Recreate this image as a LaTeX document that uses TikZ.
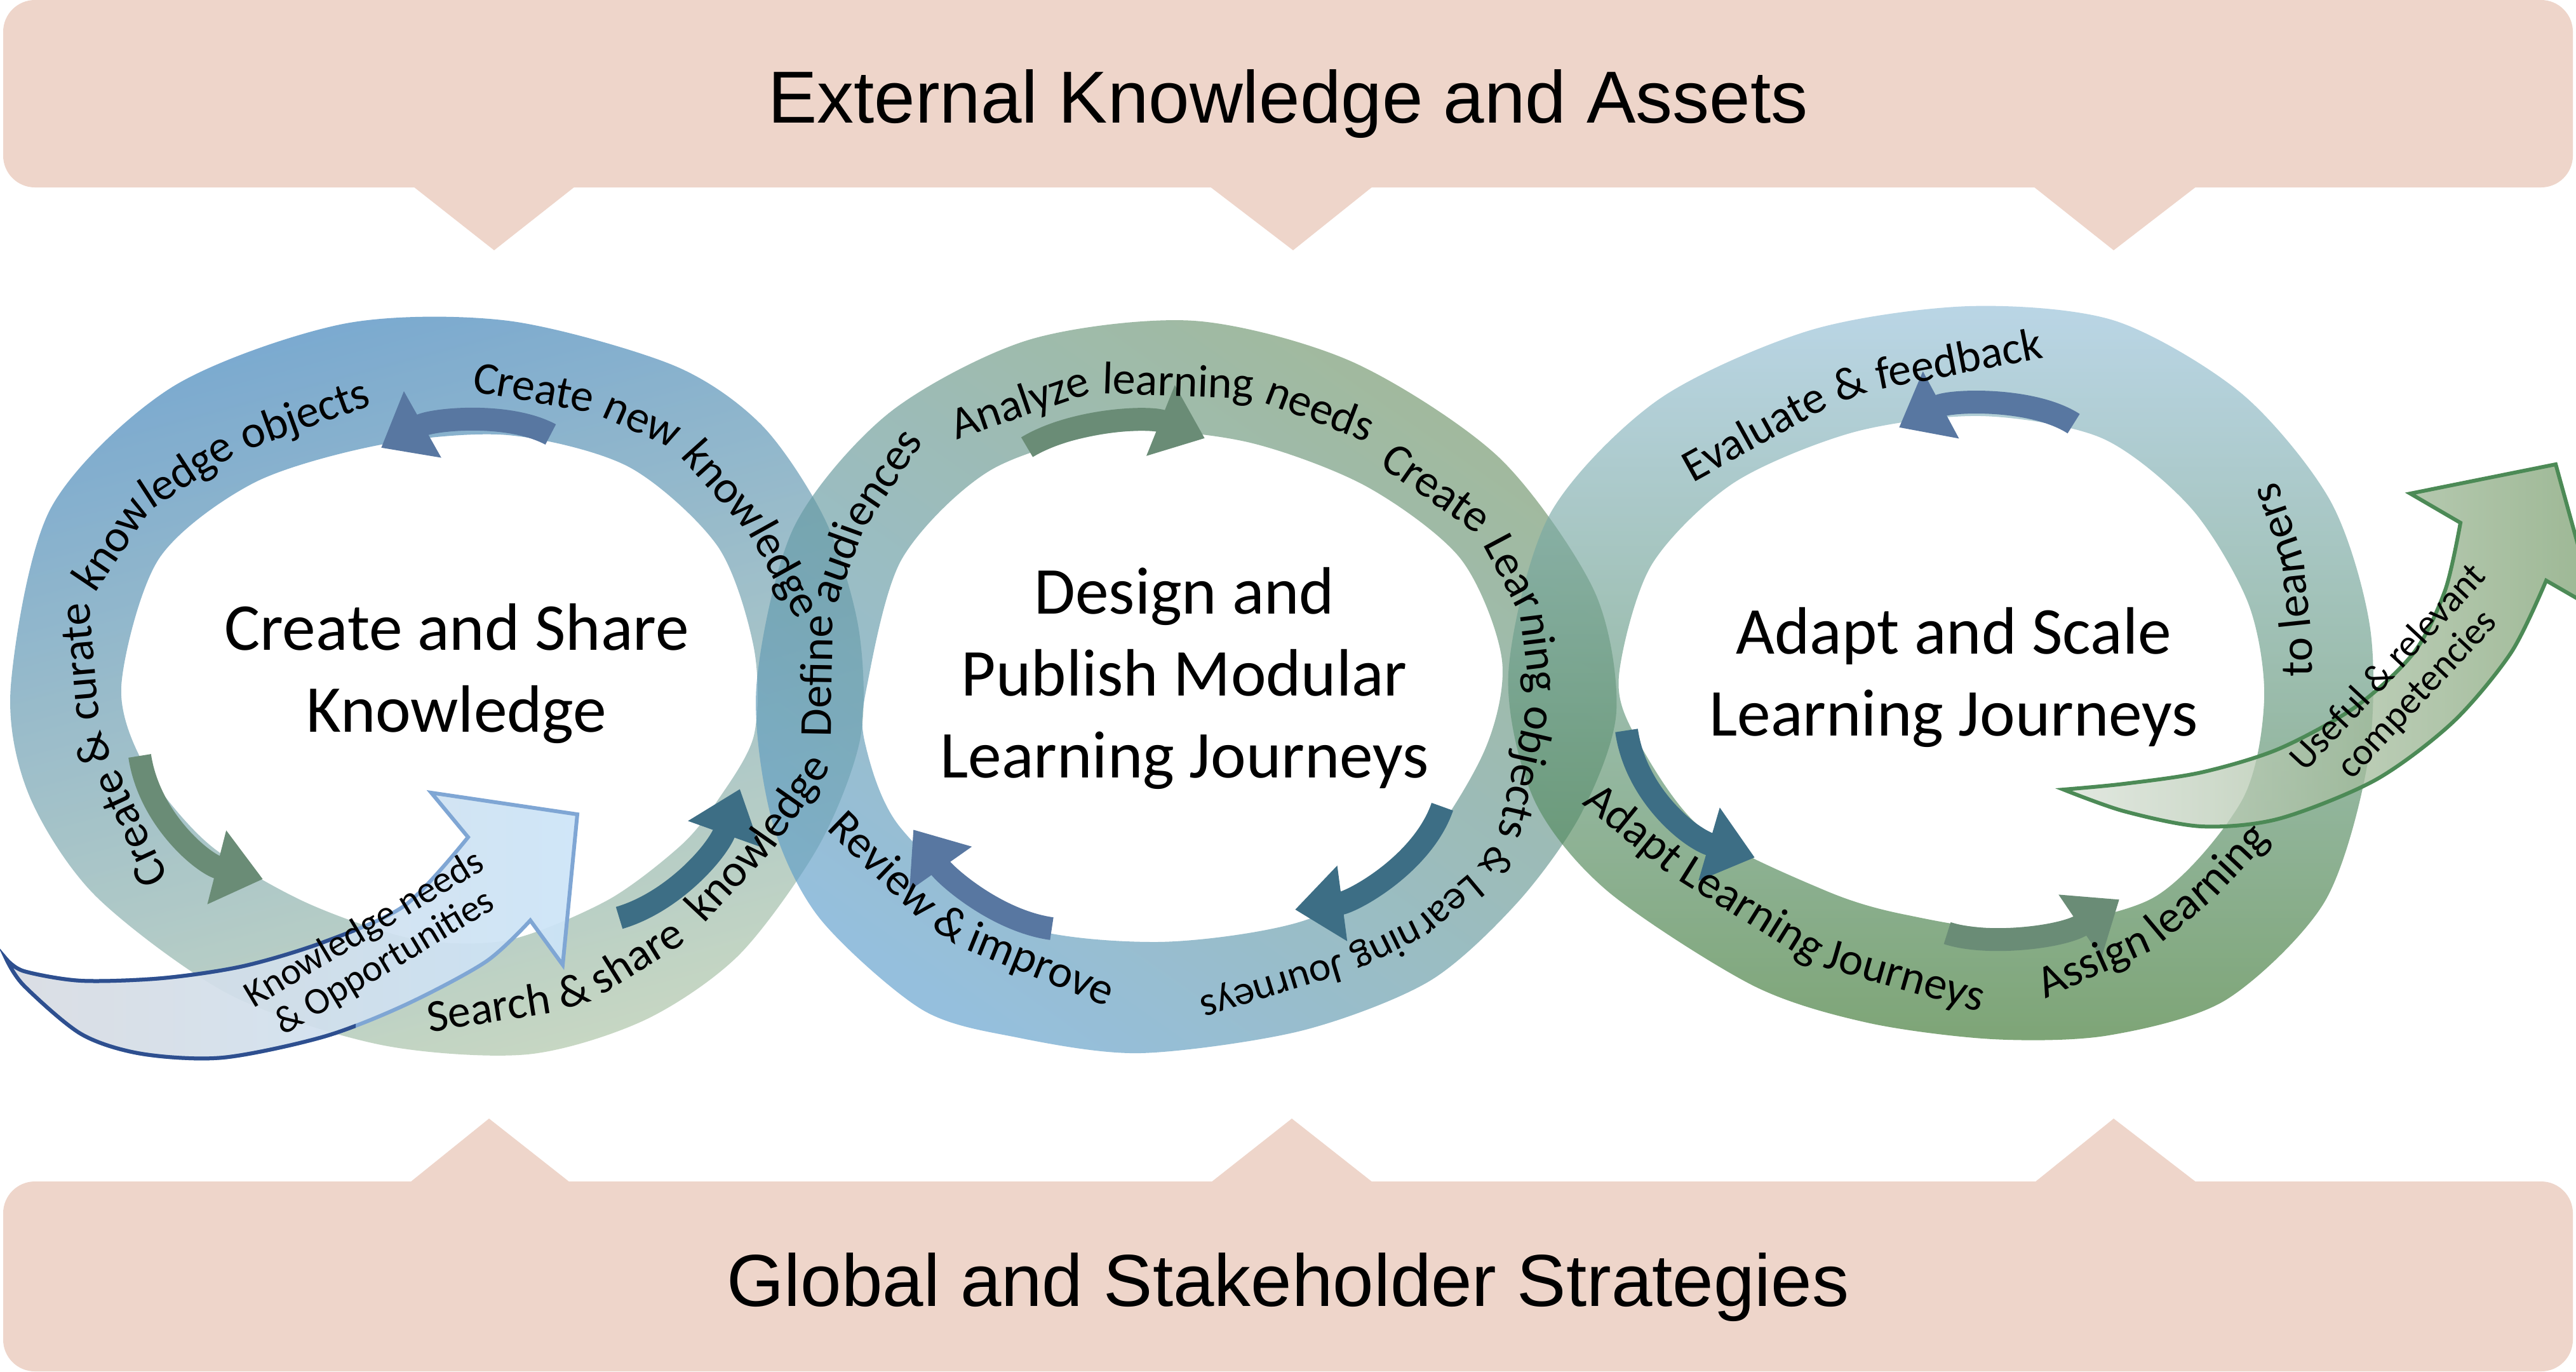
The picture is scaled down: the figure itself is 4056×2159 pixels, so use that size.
\documentclass[tikz,border=0pt]{standalone}
\usepackage{fontspec}
\setmainfont{Carlito}
\newfontfamily\bannerfont{Liberation Sans}
\usetikzlibrary{arrows.meta}

\definecolor{bannerbg}{HTML}{EED5CA}
\definecolor{oneTop}{HTML}{347CB7}
\definecolor{oneBot}{HTML}{A9C2A3}
\definecolor{twoTop}{HTML}{709567}
\definecolor{twoBot}{HTML}{5D9DCB}
\definecolor{threeTop}{HTML}{96C0D9}
\definecolor{threeBot}{HTML}{39752E}
\definecolor{slateArr}{HTML}{5877A1}
\definecolor{sageArr}{HTML}{6A8C76}
\definecolor{tealArr}{HTML}{3D6E85}
\definecolor{inNavy}{HTML}{2E4F8F}
\definecolor{inLight}{HTML}{7FA6D4}
\definecolor{inLeft}{HTML}{D8DCE2}
\definecolor{inRight}{HTML}{CCE4F8}
\definecolor{outLine}{HTML}{4C8A56}
\definecolor{outLeft}{HTML}{D9E1D7}
\definecolor{outRight}{HTML}{7CA071}

\newcommand{\lblfont}{\fontsize{20.5}{24}\selectfont}
\newcommand{\lblsmall}{\fontsize{18.6}{22}\selectfont}
\newcommand{\titlefont}{\fontsize{30}{36.7}\selectfont}
\newcommand{\arrfont}{\fontsize{17}{17.5}\selectfont}
\newcommand{\bigfont}{\bannerfont\fontsize{33}{40}\selectfont}

\tikzset{
  banner/.style={fill=bannerbg},
  ring/.style={even odd rule, opacity=0.65},
  ringone/.style={ring, top color=oneTop, bottom color=oneBot, shading angle=15},
  ringtwo/.style={ring, top color=twoTop, bottom color=twoBot, shading angle=-35},
  ringthree/.style={ring, top color=threeTop, bottom color=threeBot},
  piece/.style={anchor=base west, inner sep=0pt, outer sep=0pt, font=\lblfont, rotate=#1},
  smallarrow/.style={line width=3.6mm, -{Triangle[length=7.5mm, width=11.5mm]}},
  title/.style={align=center, font=\titlefont},
  arrowlabel/.style={align=center, font=\arrfont}
}

\begin{document}
\begin{tikzpicture}[x=0.1mm, y=-0.1mm]
\useasboundingbox (0,0) rectangle (4056,2159);
\clip (0,0) rectangle (4056,2159);
\fill[white] (0,0) rectangle (4056,2159);

% banners
\fill[banner, rounded corners=5mm] (5,0) rectangle (4051,295);
\fill[banner] (646,290) -- (778,394) -- (910,290) -- cycle;
\fill[banner] (1900,290) -- (2036,394) -- (2166,290) -- cycle;
\fill[banner] (3197,290) -- (3328,394) -- (3463,290) -- cycle;
\fill[banner, rounded corners=5mm] (5,1860) rectangle (4051,2159);
\fill[banner] (641,1865) -- (770,1761) -- (902,1865) -- cycle;
\fill[banner] (1902,1865) -- (2034,1761) -- (2166,1865) -- cycle;
\fill[banner] (3199,1865) -- (3328,1761) -- (3463,1865) -- cycle;
\node[anchor=base, font=\bigfont] (ext) at (2028,193) {External Knowledge and Assets};
\node[anchor=base, font=\bigfont] (glob) at (2028,2056) {Global and Stakeholder Strategies};

% rings
\shade[ringone]
  plot[smooth cycle] coordinates {(17,1080) (80,800) (270,610) (540,510) (800,505) (1060,575) (1200,670) (1300,820) (1352,990) (1355,1160) (1290,1330) (1164,1503) (1015,1606) (830,1660) (600,1645) (360,1565) (150,1410) (45,1250)}
  plot[smooth cycle] coordinates {(191,1080) (250,880) (400,760) (600,700) (800,685) (990,735) (1130,860) (1187,1020) (1187,1158) (1130,1260) (1072,1331) (957,1417) (800,1480) (650,1478) (480,1420) (330,1330) (230,1210)};
\shade[ringtwo]
  plot[smooth cycle] coordinates {(1191,1080) (1250,830) (1400,650) (1620,535) (1880,505) (2130,570) (2360,720) (2510,930) (2545,1120) (2490,1280) (2390,1420) (2250,1545) (2048,1623) (1795,1658) (1600,1633) (1451,1589) (1290,1445) (1215,1290)}
  plot[smooth cycle] coordinates {(1365,1080) (1420,880) (1560,740) (1760,680) (1960,695) (2150,765) (2300,880) (2365,1040) (2335,1187) (2220,1359) (2048,1451) (1818,1483) (1589,1451) (1417,1302) (1362,1170)};
\shade[ringthree]
  plot[smooth cycle] coordinates {(2375,1060) (2440,810) (2610,630) (2850,520) (3100,482) (3330,505) (3530,620) (3670,790) (3732,990) (3728,1200) (3660,1420) (3505,1574) (3320,1630) (3138,1636) (2940,1610) (2759,1551) (2530,1402) (2415,1258)}
  plot[smooth cycle] coordinates {(2549,1064) (2600,890) (2730,760) (2920,680) (3120,655) (3310,690) (3450,800) (3540,950) (3565,1100) (3530,1260) (3391,1413) (3173,1462) (3000,1440) (2874,1402) (2679,1304) (2576,1161)};

% small arrows inside the rings
\coordinate (a1s) at (867,684);   \coordinate (a1e) at (600,705);
\coordinate (a2s) at (220,1190);  \coordinate (a2e) at (414,1384);
\coordinate (a3s) at (975,1445);  \coordinate (a3e) at (1165,1242);
\coordinate (a4s) at (1617,704);  \coordinate (a4e) at (1897,690);
\coordinate (a5s) at (2271,1270); \coordinate (a5e) at (2039,1432);
\coordinate (a6s) at (1656,1462); \coordinate (a6e) at (1438,1306);
\coordinate (a7s) at (3265,667);  \coordinate (a7e) at (2990,673);
\coordinate (a8s) at (2561,1150); \coordinate (a8e) at (2763,1350);
\coordinate (a9s) at (3066,1469); \coordinate (a9e) at (3337,1416);
\draw[smallarrow, slateArr] (a1s) .. controls (800,648) and (680,660) .. (a1e);
\draw[smallarrow, sageArr]  (a2s) .. controls (235,1290) and (320,1360) .. (a2e);
\draw[smallarrow, tealArr]  (a3s) .. controls (1060,1420) and (1130,1340) .. (a3e);
\draw[smallarrow, sageArr]  (a4s) .. controls (1690,660) and (1810,655) .. (a4e);
\draw[smallarrow, tealArr]  (a5s) .. controls (2240,1360) and (2130,1420) .. (a5e);
\draw[smallarrow, slateArr] (a6s) .. controls (1570,1450) and (1490,1380) .. (a6e);
\draw[smallarrow, slateArr] (a7s) .. controls (3200,625) and (3070,630) .. (a7e);
\draw[smallarrow, tealArr]  (a8s) .. controls (2575,1250) and (2660,1320) .. (a8e);
\draw[smallarrow, sageArr]  (a9s) .. controls (3130,1490) and (3250,1475) .. (a9e);

% labels along the rings, set piece by piece
\node[piece=115] (cu1) at (265,1382) {Create};
\node[piece=114] (cu2) at (cu1.base east) {\ \&};
\node[piece=95]  (cu3) at (cu2.base east) {\ curate};
\node[piece=56]  (cu4) at (cu3.base east) {\ know};
\node[piece=33]  (cu5) at (cu4.base east) {ledge};
\node[piece=20]  (cu6) at (cu5.base east) {\ objects};

\node[piece=-10] (nk1) at (742,616) {Create};
\node[piece=-24] (nk2) at (nk1.base east) {\ new};
\node[piece=-48] (nk3) at (nk2.base east) {\ know};
\node[piece=-61] (nk4) at (nk3.base east) {ledge};

\node[piece=9]  (sk1) at (676,1625) {Search};
\node[piece=16] (sk2) at (sk1.base east) {\ \&};
\node[piece=32] (sk3) at (sk2.base east) {\ share};
\node[piece=47] (sk4) at (sk3.base east) {\ \hspace{0.3em}know};
\node[piece=55] (sk5) at (sk4.base east) {ledge};

\node[piece=89] (da1) at (1308,1160) {Define};
\node[piece=70] (da2) at (da1.base east) {\ audi};
\node[piece=56] (da3) at (da2.base east) {ences};

\node[piece=19]  (an1) at (1506,692) {Analyze};
\node[piece=-2]  (an2) at (an1.base east) {\ learning};
\node[piece=-21] (an3) at (an2.base east) {\ needs};

\node[piece=-35]  (cl1) at (2170,732) {Create};
\node[piece=-62]  (cl2) at (cl1.base east) {\ Lear};
\node[piece=-83]  (cl3) at (cl2.base east) {ning};
\node[piece=-103] (cl4) at (cl3.base east) {\ objects};
\node[piece=-122, font=\lblsmall] (cl5) at (cl4.base east) {\ \&};
\node[piece=-140, font=\lblsmall] (cl6) at (cl5.base east) {\ Lear};
\node[piece=-154, font=\lblsmall] (cl7) at (cl6.base east) {ning};
\node[piece=-163, font=\lblsmall] (cl8) at (cl7.base east) {\ Journeys};

\node[piece=-44] (ri1) at (1300,1305) {Review};
\node[piece=-35] (ri2) at (ri1.base east) {\ \&};
\node[piece=-22] (ri3) at (ri2.base east) {\ improve};

\node[piece=29] (ef1) at (2665,760) {Evaluate};
\node[piece=21] (ef2) at (ef1.base east) {\ \&};
\node[piece=11] (ef3) at (ef2.base east) {\ feedback};

\node[piece=90]  (tl1) at (3640,1065) {to};
\node[piece=96]  (tl2) at (tl1.base east) {\ lear};
\node[piece=109] (tl3) at (tl2.base east) {ners};

\node[piece=-39] (al1) at (2490,1265) {Adapt};
\node[piece=-32] (al2) at (al1.base east) {\ Learning};
\node[piece=-16] (al3) at (al2.base east) {\ Journeys};

\node[piece=24] (as1) at (3220,1572) {Assign};
\node[piece=40] (as2) at (as1.base east) {\ lear};
\node[piece=47] (as3) at (as2.base east) {ning};

% ring titles
\node[title] (share) at (719,1060) {Create and Share\\Knowledge};
\node[title] (design) at (1865,1068) {Design and\\Publish Modular\\Learning Journeys};
\node[title] (adapt) at (3076,1066) {Adapt and Scale\\Learning Journeys};

% incoming arrow
\shadedraw[left color=inLeft, right color=inRight, draw=inLight, line width=0.6mm, fill opacity=0.92]
  plot[smooth] coordinates {(10,1510) (38,1529) (128,1544) (255,1540) (383,1521) (510,1483) (638,1425) (737,1318)}
  -- (679,1248) -- (909,1282) -- (886,1519) -- (835,1449)
  -- plot[smooth] coordinates {(835,1449) (765,1514) (638,1582) (510,1632) (351,1665) (223,1659) (128,1628) (38,1552) (10,1510)} -- cycle;
\begin{scope}
\clip (0,1300) rectangle (560,1700);
\draw[inNavy, line width=0.6mm]
  plot[smooth] coordinates {(10,1510) (38,1529) (128,1544) (255,1540) (383,1521) (510,1483) (638,1425) (737,1318)}
  -- (679,1248) -- (909,1282) -- (886,1519) -- (835,1449)
  -- plot[smooth] coordinates {(835,1449) (765,1514) (638,1582) (510,1632) (351,1665) (223,1659) (128,1628) (38,1552) (10,1510)} -- cycle;
\end{scope}
\node[arrowlabel, rotate=31] (needs) at (590,1490) {Knowledge needs\\\& Opportunities};

% outgoing arrow
\shadedraw[left color=outLeft, right color=outRight, draw=outLine, line width=0.6mm, fill opacity=0.75]
  plot[smooth] coordinates {(3249,1243) (3344,1234) (3466,1216) (3588,1179) (3710,1112) (3801,1027) (3850,929) (3874,823)}
  -- (3795,777) -- (4024,731) -- (4087,959) -- (4009,914)
  -- plot[smooth] coordinates {(4009,914) (3954,1027) (3862,1137) (3740,1228) (3588,1289) (3466,1301) (3344,1277) (3249,1243)} -- cycle;
\node[arrowlabel, rotate=47] (useful) at (3784,1073) {Useful \& relevant\\competencies};
\end{tikzpicture}
\end{document}
